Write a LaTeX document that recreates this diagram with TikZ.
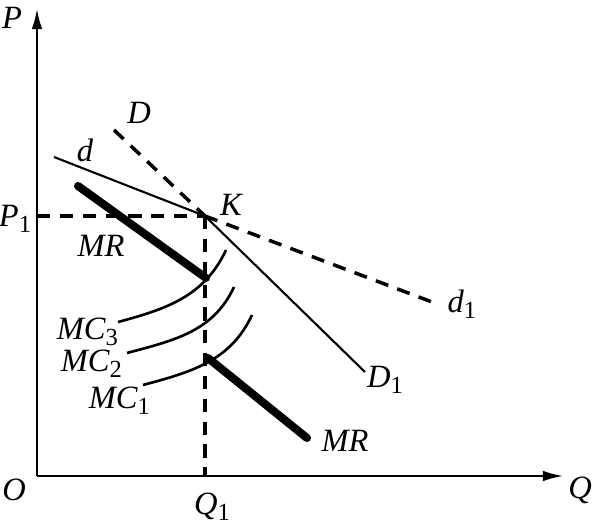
\documentclass[tikz,border=0pt]{standalone}
\usepackage{fontspec}
\setmainfont{Liberation Serif}
\usetikzlibrary{arrows.meta}

% italic letter with upright subscript
\newcommand{\lab}[2]{\textit{#1}\raisebox{-.4ex}{\upshape\fontsize{14}{14}\selectfont #2}}

\begin{document}
\begin{tikzpicture}[x=0.02cm,y=-0.02cm]

\def\dashlen{7.5pt}

\tikzset{
        every node/.style={font=\fontsize{18.5}{20}\selectfont\itshape, inner sep=1pt},
        axis/.style={line width=1.6pt, -{Latex[length=12pt,width=6pt]}},
        curve/.style={line width=1.2pt},
        guide/.style={line width=2pt, dash pattern=on \dashlen off 5.5pt},
        mrline/.style={line width=4.6pt, line cap=round},
        mccurve/.style={line width=1.5pt}
}

\useasboundingbox (0,0) rectangle (597,526);

% axes
\coordinate (O) at (37,476);
\coordinate (Ptop) at (37,8);
\coordinate (Qend) at (564,476);
\draw[axis] (O) -- (Ptop);
\draw[axis] (O) -- (Qend);
\node (P label) at (12,18) {P};
\node (O label) at (14,490) {O};
\node (Q label) at (580,490) {Q};

% kink point and guides
\coordinate (K) at (205,216);
\coordinate (P1) at (37,216);
\coordinate (Q1) at (205,476);
\draw[guide] (P1) -- (K);
\draw[guide] (K) -- (Q1);
\node (P1 label) at (15,219) {\lab{P}{1}};
\node (Q1 label) at (212,507) {\lab{Q}{1}};
\node (K label) at (231,205) {K};

% demand curves
\coordinate (d start) at (54,157);
\coordinate (d1 end) at (432,302);
\coordinate (D start) at (114,130);
\coordinate (D1 end) at (365,372);
\draw[curve] (d start) -- (K);
\draw[guide] (K) -- (d1 end);
\draw[guide] (D start) -- (K);
\draw[curve] (K) -- (D1 end);
\node (d label) at (85,150) {d};
\node (d1 label) at (462,304) {\lab{d}{1}};
\node (D label) at (139,113) {D};
\node (D1 label) at (385,380) {\lab{D}{1}};

% marginal revenue
\coordinate (MR1 start) at (78,186);
\coordinate (MR1 end) at (206,278);
\coordinate (MR2 start) at (208,358);
\coordinate (MR2 end) at (307,438);
\draw[mrline] (MR1 start) -- (MR1 end);
\draw[mrline] (MR2 start) -- (MR2 end);
\node (MR1 label) at (101,246) {MR};
\node (MR2 label) at (345,441) {MR};

% marginal cost curves
\foreach \i/\sx/\sy/\ex/\ey/\lx/\ly in {3/118/322/226/250/120/332, 2/127/353/234/287/124/364, 1/143/385/252/315/152/401} {
     \coordinate (mc\i start) at (\sx,\sy);
     \coordinate (mc\i end) at (\ex,\ey);
     \draw[mccurve] (mc\i start) to[out=15,in=-115] (mc\i end);
     \node[anchor=east] (mc\i) at (\lx,\ly) {\lab{MC}{\i}};
}

\end{tikzpicture}
\end{document}
